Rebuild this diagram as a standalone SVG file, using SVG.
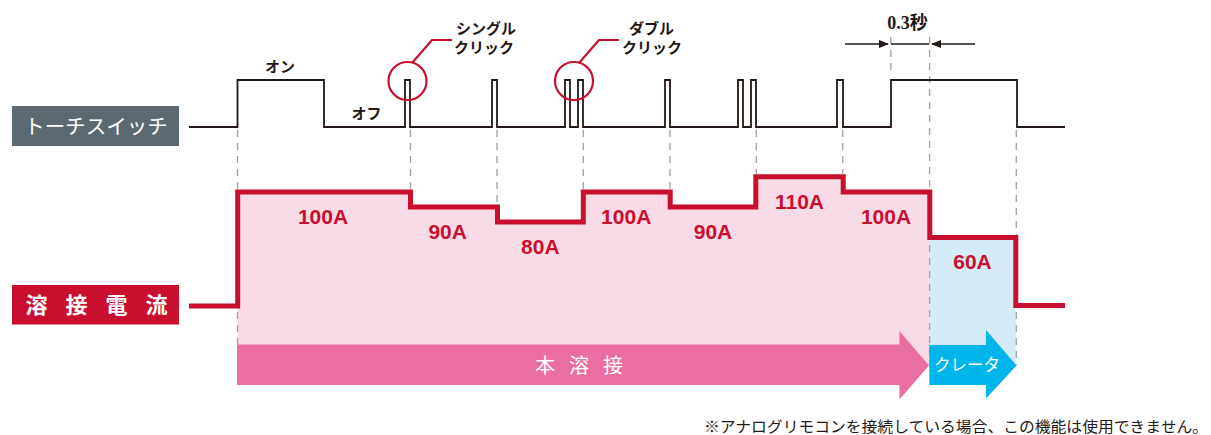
<svg xmlns="http://www.w3.org/2000/svg" width="1211" height="435" viewBox="0 0 1211 435">
<style>
.jp{font-family:"Noto Sans CJK JP","Noto Sans",sans-serif;}
.wave{fill:none;stroke:#231815;stroke-width:1.8;stroke-linejoin:miter;}
.dash{stroke:#a0a0a0;stroke-width:1.3;stroke-dasharray:7 6;fill:none;}
.cur{fill:none;stroke:#c8102e;stroke-width:5;stroke-linejoin:miter;}
.amp{font-family:"Liberation Sans",Arial,sans-serif;font-weight:bold;font-size:21px;fill:#c8102e;text-anchor:middle;}
.lbl{font-family:"Noto Sans CJK JP",sans-serif;font-size:15px;font-weight:bold;fill:#231815;text-anchor:middle;}
.call{fill:none;stroke:#c8102e;stroke-width:2.2;}
</style>
<defs>
<marker id="ah" markerWidth="10" markerHeight="8" refX="9" refY="4" orient="auto" markerUnits="userSpaceOnUse">
<path d="M0,0 L10,4 L0,8 Z" fill="#231815"/>
</marker>
</defs>

<g id="fills">
<path d="M237.7 192 H410.5 V207 H497.5 V222 H583.3 V192 H670.2 V207 H755.8 V176.7 H843.2 V192 H929.8 V365 H237.7 Z" fill="#f9dbe8"/>
<rect x="929.8" y="237.5" width="86" height="127" fill="#d5ebf8"/>
</g>

<g id="connectors">
<path class="dash" d="M237.5 130 V345 M410.5 130 V189 M497 130 V204 M583.3 130 V189 M670 130 V189 M756.3 130 V174 M842.7 130 V174 M929.6 37 V365 M1016.3 130 V365 M890.8 37 V74"/>
<path class="wave" d="M189 127 H237.5 V80 H324 V127 H405 V80 H410 V127 H492 V80 H497 V127 H565 V80 H570 V127 H578 V80 H583 V127 H665 V80 H670 V127 H738 V80 H743 V127 H751 V80 H756 V127 H837 V80 H843 V127 H891 V80 H1017 V127 H1065"/>
<path class="cur" d="M189 306 H237.7 V192 H410.5 V207 H497.5 V222 H583.3 V192 H670.2 V207 H755.8 V176.7 H843.2 V192 H929.8 V237.5 H1015.8 V305.5 H1065"/>
<line x1="845" y1="44" x2="888" y2="44" stroke="#231815" stroke-width="1.5" marker-end="url(#ah)"/>
<line x1="891" y1="44" x2="929" y2="44" stroke="#231815" stroke-width="1.5"/>
<line x1="975" y1="44" x2="932" y2="44" stroke="#231815" stroke-width="1.5" marker-end="url(#ah)"/>
<circle class="call" cx="407.5" cy="81" r="19"/>
<path class="call" d="M412 63 L432 40 H452"/>
<circle class="call" cx="574" cy="81" r="19"/>
<path class="call" d="M579 63 L599 40 H619"/>
</g>

<g id="label-torch">
<rect x="12" y="106" width="167" height="40" fill="#5c6971"/>
<text x="96" y="133.5" class="jp" font-size="20.5" fill="#ffffff" text-anchor="middle">トーチスイッチ</text>
</g>

<g id="label-current">
<rect x="12" y="285" width="167" height="39.5" fill="#c8102e"/>
<text x="105.5" y="313" class="jp" font-size="22" font-weight="bold" fill="#ffffff" text-anchor="middle" letter-spacing="18">溶接電流</text>
</g>

<g id="switch-labels">
<text x="280" y="72" class="lbl">オン</text>
<text x="366.5" y="119" class="lbl">オフ</text>
<text x="486" y="34" class="lbl">シングル</text>
<text x="484" y="53" class="lbl">クリック</text>
<text x="651.5" y="34" class="lbl">ダブル</text>
<text x="652" y="53" class="lbl">クリック</text>
<text x="907.5" y="29" font-family="Liberation Serif,'Noto Sans CJK JP',serif" font-weight="bold" font-size="18" fill="#231815" text-anchor="middle">0.3秒</text>
</g>

<g id="amps">
<text x="323" y="224" class="amp">100A</text>
<text x="447.7" y="239.3" class="amp">90A</text>
<text x="540.3" y="254.3" class="amp">80A</text>
<text x="626.2" y="224" class="amp">100A</text>
<text x="713" y="239.3" class="amp">90A</text>
<text x="799.5" y="209.3" class="amp">110A</text>
<text x="886" y="224" class="amp">100A</text>
<text x="972.5" y="269" class="amp">60A</text>
</g>

<g id="arrow-main">
<path d="M237 344.5 H899.4 V331 L929 365.5 L899.4 399.5 V385 H237 Z" fill="#eb6ea3"/>
<text x="586" y="372.5" class="jp" font-size="20" fill="#ffffff" text-anchor="middle" letter-spacing="14">本溶接</text>
</g>

<g id="arrow-crater">
<path d="M929.3 345 H986 V330 L1016.5 365.5 L986 398.5 V385 H929.3 Z" fill="#00b5ec"/>
<text x="967" y="371" class="jp" font-size="16.5" fill="#ffffff" text-anchor="middle">クレータ</text>
</g>

<g id="footnote">
<text x="704" y="432" class="jp" font-size="15.3" fill="#231815" textLength="504" lengthAdjust="spacingAndGlyphs">※アナログリモコンを接続している場合、この機能は使用できません。</text>
</g>
</svg>
